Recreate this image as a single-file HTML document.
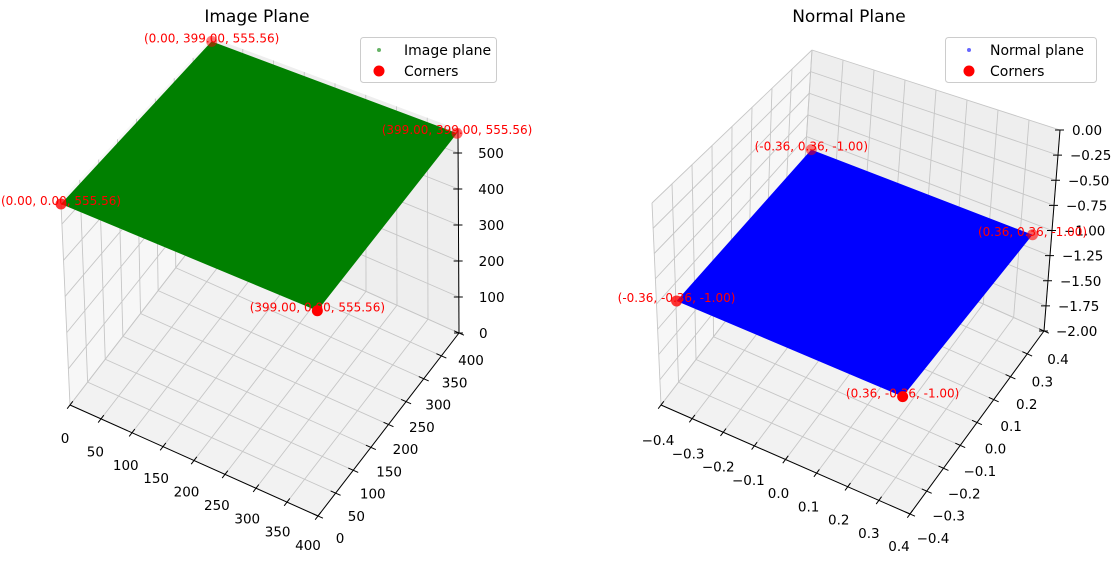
<!DOCTYPE html>
<html><head><meta charset="utf-8"><style>
html,body{margin:0;padding:0;background:#fff;}
svg{display:block;font-family:"DejaVu Sans","Liberation Sans",sans-serif;}
</style></head><body>
<svg id="fig" width="1114" height="565" viewBox="0 0 1114 565" xmlns="http://www.w3.org/2000/svg">
<rect width="1114" height="565" fill="#fff"/>
<g id="left"></g>
<g id="right"></g>
<text x="257" y="22" font-size="17" text-anchor="middle" fill="#000">Image Plane</text>
<text x="849" y="22" font-size="17" text-anchor="middle" fill="#000">Normal Plane</text>
<g>
<rect x="360.5" y="37.5" width="136" height="45" rx="3" fill="#fff" fill-opacity="0.8" stroke="#ccc"/>
<circle cx="379" cy="50" r="2" fill="#008000" opacity="0.6"/>
<text x="404" y="55" font-size="14">Image plane</text>
<circle cx="379" cy="71" r="5.5" fill="#ff0000"/>
<text x="404" y="76" font-size="14">Corners</text>
</g>
<g>
<rect x="945.5" y="37.5" width="151" height="45" rx="3" fill="#fff" fill-opacity="0.8" stroke="#ccc"/>
<circle cx="969" cy="50" r="2" fill="#0000ff" opacity="0.6"/>
<text x="990" y="55" font-size="14">Normal plane</text>
<circle cx="969" cy="71" r="5.5" fill="#ff0000"/>
<text x="990" y="76" font-size="14">Corners</text>
</g>
</svg>
<script>
// ---- data ----
const leftXTicks = [0,50,100,150,200,250,300,350,400];
const leftYTicks = [0,50,100,150,200,250,300,350,400];
const leftZTicks = [0,100,200,300,400,500];
const leftCornersX = [0,399,0,399];
const leftCornersY = [399,399,0,0];
const leftCornersZ = [555.56,555.56,555.56,555.56];
const leftCornerLabels = ["(0.00, 399.00, 555.56)","(399.00, 399.00, 555.56)","(0.00, 0.00, 555.56)","(399.00, 0.00, 555.56)"];
const leftPlaneX = [0,399];
const leftPlaneY = [0,399];
const leftPlaneZ = 555.56;

const rightXTicks = [-0.4,-0.3,-0.2,-0.1,0.0,0.1,0.2,0.3,0.4];
const rightYTicks = [-0.4,-0.3,-0.2,-0.1,0.0,0.1,0.2,0.3,0.4];
const rightZTicks = [0,-0.25,-0.5,-0.75,-1.0,-1.25,-1.5,-1.75,-2.0];
const rightCornersX = [-0.36,0.36,-0.36,0.36];
const rightCornersY = [0.36,0.36,-0.36,-0.36];
const rightCornersZ = [-1,-1,-1,-1];
const rightCornerLabels = ["(-0.36, 0.36, -1.00)","(0.36, 0.36, -1.00)","(-0.36, -0.36, -1.00)","(0.36, -0.36, -1.00)"];
const rightPlaneX = [-0.36,0.36];
const rightPlaneY = [-0.36,0.36];
const rightPlaneZ = -1;

const NS="http://www.w3.org/2000/svg";
function mk(parent,tag,attrs){const e=document.createElementNS(NS,tag);for(const k in attrs)e.setAttribute(k,attrs[k]);parent.appendChild(e);return e;}
function fmt(v,d){const s=Math.abs(v).toFixed(d);return (v<-1e-9?"\u2212":"")+s;}
const TFS=13.5;

function panel(g,cfg){
  const [x0,x1]=cfg.xl,[y0,y1]=cfg.yl,[z0,z1]=cfg.zl;
  const B=cfg.bottom,T=cfg.top;
  function P(x,y,z){
    const u=(x-x0)/(x1-x0),v=(y-y0)/(y1-y0),w=(z-z0)/(cfg.zref-z0);
    function bil(C){
      const a=[C[0][0]*(1-u)+C[1][0]*u, C[0][1]*(1-u)+C[1][1]*u];
      const b=[C[3][0]*(1-u)+C[2][0]*u, C[3][1]*(1-u)+C[2][1]*u];
      return [a[0]*(1-v)+b[0]*v, a[1]*(1-v)+b[1]*v];
    }
    const p=bil(B),q=bil(T);
    return [p[0]*(1-w)+q[0]*w, p[1]*(1-w)+q[1]*w];
  }
  const zt=cfg.ztop;
  function poly(pts,fill,name){const e=mk(g,'polygon',{points:pts.map(p=>p.join(',')).join(' '),fill:fill});
    
    return e;}
  poly([P(x0,y0,z0),P(x0,y1,z0),P(x0,y1,zt),P(x0,y0,zt)],'#f7f7f7','x-pane');
  poly([P(x0,y1,z0),P(x1,y1,z0),P(x1,y1,zt),P(x0,y1,zt)],'#eeeeee','y-pane');
  poly([P(x0,y0,z0),P(x1,y0,z0),P(x1,y1,z0),P(x0,y1,z0)],'#f2f2f2','floor-pane');
  function line(a,b,stroke,w,name){const e=mk(g,'line',{x1:a[0],y1:a[1],x2:b[0],y2:b[1],stroke:stroke,'stroke-width':w});
    
    return e;}
  const gc='#c6c6c6';
  cfg.xt.forEach(x=>{line(P(x,y0,z0),P(x,y1,z0),gc,0.9,'grid-x');line(P(x,y1,z0),P(x,y1,zt),gc,0.9,'grid-x');});
  cfg.yt.forEach(y=>{line(P(x0,y,z0),P(x1,y,z0),gc,0.9,'grid-y');line(P(x0,y,z0),P(x0,y,zt),gc,0.9,'grid-y');});
  cfg.zt.forEach(z=>{line(P(x0,y0,z),P(x0,y1,z),gc,0.9,'grid-z');line(P(x0,y1,z),P(x1,y1,z),gc,0.9,'grid-z');});
  line(P(x0,y0,z0),P(x1,y0,z0),'#000',1,'x-axis-line');
  line(P(x1,y0,z0),P(x1,y1,z0),'#000',1,'y-axis-line');
  line(P(x1,y1,z0),P(x1,y1,zt),'#000',1,'z-axis-line');
  const dy=(y1-y0)*0.02,dx=(x1-x0)*0.02;
  const n=cfg.xt.length;
  cfg.xt.forEach((x,i)=>{line(P(x,y0-dy,z0),P(x,y0+dy,z0),'#000',1,'x-tick');
    const p=P(x,y0,z0),f=i/(n-1),o=[cfg.xo[0][0]*(1-f)+cfg.xo[1][0]*f,cfg.xo[0][1]*(1-f)+cfg.xo[1][1]*f];
    const t=mk(g,'text',{x:p[0]+o[0],y:p[1]+o[1]+5,'font-size':TFS,'text-anchor':'middle'});t.textContent=cfg.xf(x);
    
    });
  const m=cfg.yt.length;
  cfg.yt.forEach((y,i)=>{line(P(x1-dx,y,z0),P(x1+dx,y,z0),'#000',1,'y-tick');
    const p=P(x1,y,z0),f=i/(m-1),o=[cfg.yo[0][0]*(1-f)+cfg.yo[1][0]*f,cfg.yo[0][1]*(1-f)+cfg.yo[1][1]*f];
    const t=mk(g,'text',{x:p[0]+o[0],y:p[1]+o[1]+5,'font-size':TFS,'text-anchor':'middle'});t.textContent=cfg.xf(y);
    
    });
  cfg.zt.forEach(z=>{const p=P(x1,y1,z);
    line([p[0]-5,p[1]],[p[0]+4,p[1]],'#000',1,'z-tick');
    const t=mk(g,'text',{x:p[0]+cfg.zo,y:p[1]+5,'font-size':TFS,'text-anchor':'start'});t.textContent=cfg.zf(z);
    
    });
  const pz=cfg.pz;
  poly([P(cfg.px[0],cfg.py[0],pz),P(cfg.px[1],cfg.py[0],pz),P(cfg.px[1],cfg.py[1],pz),P(cfg.px[0],cfg.py[1],pz)],cfg.color,'plane-surface');
  const alphas=[0.5,0.6,0.8,1];
  cfg.cx.forEach((x,i)=>{const p=P(x,cfg.cy[i],cfg.cz[i]);
    const c=mk(g,'circle',{cx:p[0],cy:p[1],r:5.5,fill:'#ff0000','fill-opacity':alphas[i]});
    
    
    const t=mk(g,'text',{x:p[0],y:p[1]+1,'font-size':12,'text-anchor':'middle',fill:'#ff0000'});t.textContent=cfg.cl[i];
    
    });
}

panel(document.getElementById('left'),{
  xl:[0,400],yl:[0,400],zl:[0,566],zref:555.56,ztop:566,
  bottom:[[70,405],[318,516],[459,333],[211,222]],
  top:[[61,204],[318,311],[458,133],[212,41]],
  xt:leftXTicks,yt:leftYTicks,zt:leftZTicks,
  xo:[[-5,33],[-10,29]],yo:[[22,22],[12,27]],zo:20,
  xf:v=>String(v),zf:v=>String(v),
  px:leftPlaneX,py:leftPlaneY,pz:leftPlaneZ,color:'#008000',
  cx:leftCornersX,cy:leftCornersY,cz:leftCornersZ,cl:leftCornerLabels
});
panel(document.getElementById('right'),{
  xl:[-0.4,0.4],yl:[-0.4,0.4],zl:[-2,0],zref:0,ztop:0,
  bottom:[[661,405],[910,514],[1044,331],[801,223]],
  top:[[652,203],[906,308],[1060,130],[812,50]],
  xt:rightXTicks,yt:rightYTicks,zt:rightZTicks,
  xo:[[-3,35],[-11,32]],yo:[[23,24],[14,28]],zo:12,
  xf:v=>fmt(v,1),zf:v=>fmt(v,2),
  px:rightPlaneX,py:rightPlaneY,pz:rightPlaneZ,color:'#0000ff',
  cx:rightCornersX,cy:rightCornersY,cz:rightCornersZ,cl:rightCornerLabels
});
</script>
</body></html>
